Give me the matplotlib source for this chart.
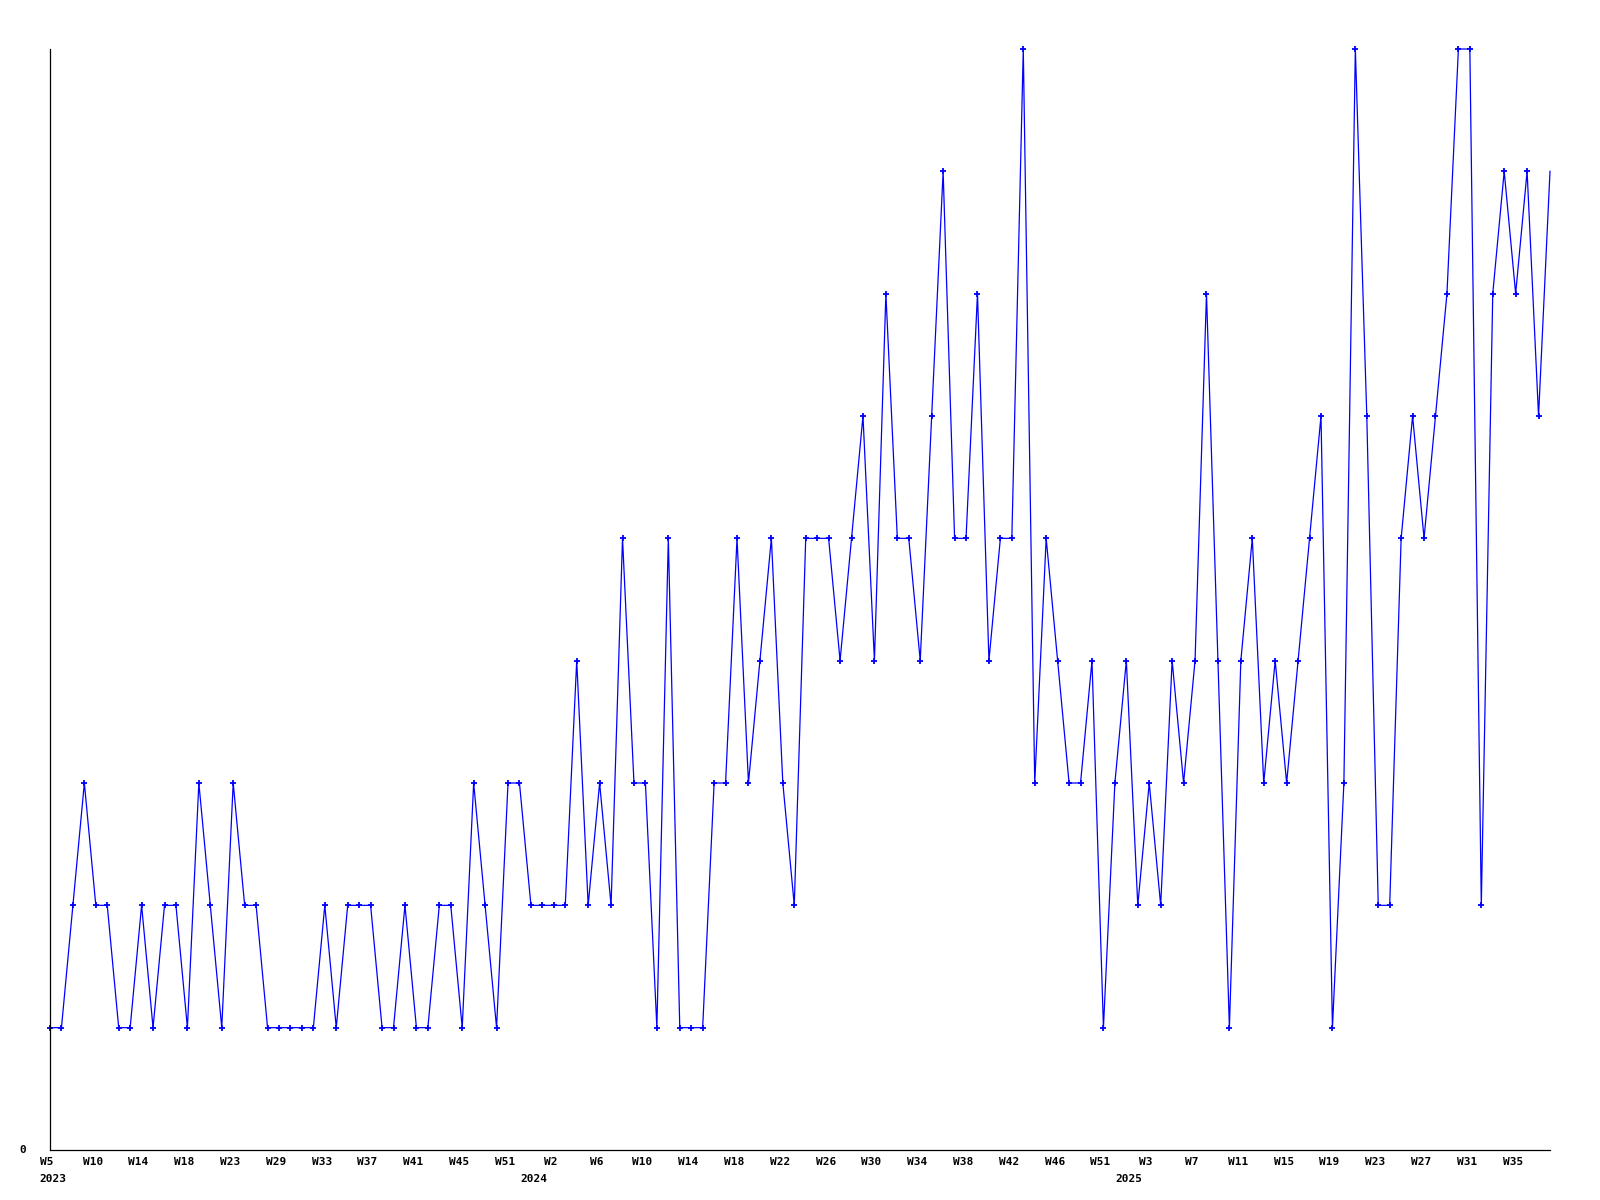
import matplotlib
matplotlib.use('Agg')
import matplotlib.pyplot as plt

# weekly counts, one entry per data point (2023 W5 .. 2025 ~W38)
values = [1, 1, 2, 3, 2, 2, 1, 1, 2, 1, 2, 2, 1, 3, 2, 1, 3, 2, 2, 1,
          1, 1, 1, 1, 2, 1, 2, 2, 2, 1, 1, 2, 1, 1, 2, 2, 1, 3, 2, 1,
          3, 3, 2, 2, 2, 2, 4, 2, 3, 2, 5, 3, 3, 1, 5, 1, 1, 1, 3, 3,
          5, 3, 4, 5, 3, 2, 5, 5, 5, 4, 5, 6, 4, 7, 5, 5, 4, 6, 8, 5,
          5, 7, 4, 5, 5, 9, 3, 5, 4, 3, 3, 4, 1, 3, 4, 2, 3, 2, 4, 3,
          4, 7, 4, 1, 4, 5, 3, 4, 3, 4, 5, 6, 1, 3, 9, 6, 2, 2, 5, 6,
          5, 6, 7, 9, 9, 2, 7, 8, 7, 8, 6, 8]

# labels shown on every 4th point
week_labels = ['W5', 'W10', 'W14', 'W18', 'W23', 'W29', 'W33', 'W37', 'W41',
               'W45', 'W51', 'W2', 'W6', 'W10', 'W14', 'W18', 'W22', 'W26',
               'W30', 'W34', 'W38', 'W42', 'W46', 'W51', 'W3', 'W7', 'W11',
               'W15', 'W19', 'W23', 'W27', 'W31', 'W35']
years = ['2023', '2024', '2025']
year_start = [0, 42, 94]   # index of first point of each year

n = len(values)
x = list(range(n))

fig = plt.figure(figsize=(16, 12), dpi=100)
ax = fig.add_axes([50 / 1600, 1 - 1150 / 1200, 1500 / 1600, 1101 / 1200])

ax.plot(x, values, color='#0000ff', linewidth=0.9, marker='+',
        markersize=4, markeredgewidth=1.3, markevery=list(range(n - 1)),
        clip_on=False)

ax.set_xlim(0, n - 1)
ax.set_ylim(0, 9)

for s in ['top', 'right']:
    ax.spines[s].set_visible(False)
for s in ['left', 'bottom']:
    ax.spines[s].set_color('black')
    ax.spines[s].set_linewidth(0.9)

ax.set_xticks([])
ax.set_yticks([])

font = dict(family='DejaVu Sans Mono', fontweight='bold', fontsize=8)
step = (n - 1) / 1500  # data units per pixel

for i, lab in enumerate(week_labels):
    ax.text(i * 4 - 3 * step, -0.1, lab, ha='center', va='center', **font)
for yr, idx in zip(years, year_start):
    ax.text(idx + 3 * step, -0.235, yr, ha='center', va='center', **font)
ax.text(-27 * step, 0, '0', ha='center', va='center', **font)

plt.savefig('out.png', dpi=100)
